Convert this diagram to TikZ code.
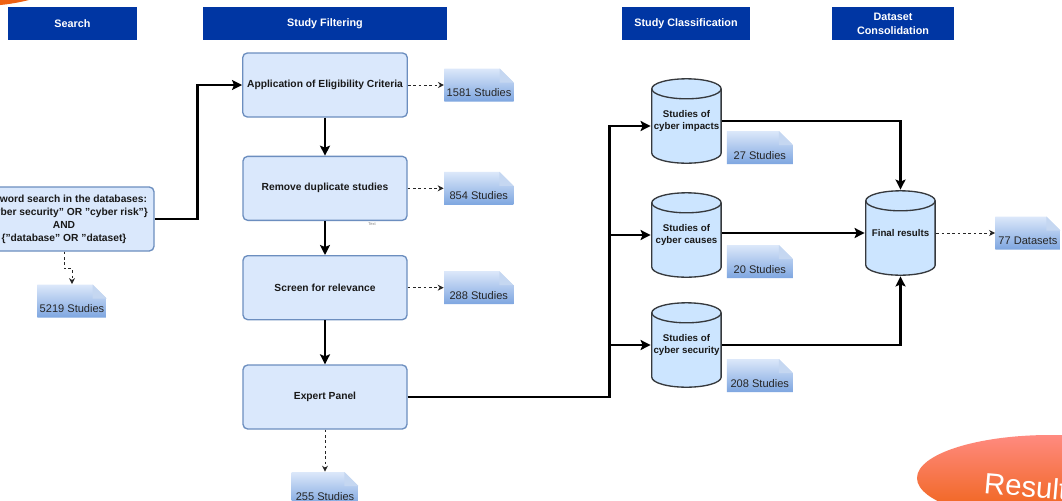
\documentclass[tikz,border=0pt]{standalone}
\usepackage{fontspec}
\setmainfont{Liberation Sans}
\usetikzlibrary{arrows.meta, positioning}

\definecolor{headblue}{HTML}{0036A3}
\definecolor{boxfill}{HTML}{DAE8FC}
\definecolor{boxline}{HTML}{6C8EBF}
\definecolor{notetop}{HTML}{DCE8FA}
\definecolor{notebot}{HTML}{7EA6E0}
\definecolor{cylfill}{HTML}{CCE5FF}
\definecolor{cylline}{HTML}{36393D}
\definecolor{blobtop}{HTML}{FF8A80}
\definecolor{blobbot}{HTML}{EE6010}

\begin{document}
\begin{tikzpicture}[
            x = 0.75pt,
            y = -0.75pt,
            > = {Stealth[length=7.5pt, width=7.5pt, inset=1.5pt]},
            semithick
        ]

        \tikzstyle{header}=[
            fill = headblue,
            text = white,
            font = \fontsize{8.1}{10.5}\selectfont\bfseries,
            align = center,
            inner sep = 0pt,
            minimum height = 24.75pt
        ]
        \tikzstyle{stage}=[
            rectangle,
            rounded corners = 3.5pt,
            draw = boxline,
            line width = 1pt,
            fill = boxfill,
            text = black!90,
            font = \fontsize{7.7}{9.75}\selectfont\bfseries,
            align = center,
            minimum width = 123pt,
            minimum height = 48pt
        ]
        \tikzstyle{store}=[
            rectangle,
            inner sep = 0pt,
            minimum width = 53.25pt,
            minimum height = 64.5pt,
            align = center,
            text = black!90,
            font = \fontsize{7.3}{9}\selectfont\bfseries,
            path picture = {
                \filldraw[fill = cylfill, draw = cylline, line width = 1pt]
                    ([xshift=0.6pt, yshift=-8.1pt]path picture bounding box.north west)
                    -- ([xshift=0.6pt, yshift=8.1pt]path picture bounding box.south west)
                    arc[start angle=180, end angle=360, x radius=26pt, y radius=7.5pt]
                    -- ([xshift=-0.65pt, yshift=-8.1pt]path picture bounding box.north east)
                    arc[start angle=0, end angle=180, x radius=26pt, y radius=7.5pt] -- cycle;
                \draw[cylline, line width = 1pt]
                    ([xshift=0.6pt, yshift=-8.1pt]path picture bounding box.north west)
                    arc[start angle=180, end angle=360, x radius=26pt, y radius=7.5pt];
            }
        ]
        \tikzstyle{studies}=[
            inner sep = 0pt,
            minimum width = 52pt,
            text height = 21pt,
            text depth = 3.75pt,
            text = black!85,
            font = \fontsize{8.3}{10}\selectfont,
            path picture = {
                \shade[top color = notetop, bottom color = notebot]
                    (path picture bounding box.south west) -- (path picture bounding box.south east)
                    -- ([yshift=-10.5pt]path picture bounding box.north east)
                    -- ([xshift=-10.5pt]path picture bounding box.north east)
                    -- (path picture bounding box.north west) -- cycle;
                \fill[notebot!45!white]
                    ([xshift=-10.5pt]path picture bounding box.north east)
                    -- ([xshift=-10.5pt, yshift=-10.5pt]path picture bounding box.north east)
                    -- ([yshift=-10.5pt]path picture bounding box.north east) -- cycle;
            }
        ]
        \tikzstyle{flow}=[->, line width = 1.9pt]
        \tikzstyle{tally}=[-{Stealth[length=4.5pt, width=4.5pt]}, line width = 0.75pt, dash pattern = on 2pt off 2pt, black!85]

        \useasboundingbox (0,0) rectangle (1062,500);
        \clip (0,0) rectangle (1062,500);
        \fill[white] (0,0) rectangle (1062,500);

        % leftovers of the slide
        \shade[top color = blobtop, bottom color = blobbot] (-20,-104) ellipse [x radius = 112.5pt, y radius = 82.5pt];
        \shade[top color = blobtop, bottom color = blobbot] (1050,478) ellipse [x radius = 99.75pt, y radius = 32.25pt];
        \node[text = white, font = \fontsize{22}{24}\selectfont, anchor = base west, rotate = -5, inner sep = 0pt] (result) at (983,493) {Result};

        \node[header, minimum width = 96.75pt] (hsearch) at (72.5,23.5) {Search};
        \node[header, minimum width = 183pt] (hfilter) at (325,23.5) {Study Filtering};
        \node[header, minimum width = 96pt] (hclass) at (686,23.5) {Study Classification};
        \node[header, minimum width = 91.5pt] (hdata) at (893,23.5) {Dataset\\Consolidation};

        \node[stage, minimum width = 135pt] (search) at (64,219) {Keyword search in the databases:\\\{"cyber security" OR "cyber risk"\}\\AND\\\{"database" OR "dataset\}};
        \node[stage] (elig) at (325,85) {Application of Eligibility Criteria};
        \node[stage] (dupes) [below=28.5pt of elig] {Remove duplicate studies};
        \node[stage] (screen) [below=25.5pt of dupes] {Screen for relevance};
        \node[stage] (panel) [below=33pt of screen] {Expert Panel};
        \node[text = black!50, font = \fontsize{3}{3}\selectfont, inner sep = 0pt] (txt) at (372,224) {Text};

        \node[store] (impacts) at (686.5,121) {Studies of\\cyber impacts};
        \node[store] (causes) at (686.5,235) {Studies of\\cyber causes};
        \node[store] (security) at (686.5,345) {Studies of\\cyber security};
        \node[store] (final) at (900.5,233) {Final results};

        \node[studies] (n5219) at (72,301) {5219 Studies};
        \node[studies] (n1581) [right=27pt of elig] {1581 Studies};
        \node[studies] (n854) [right=27pt of dupes] {854 Studies};
        \node[studies] (n288) [right=27pt of screen] {288 Studies};
        \node[studies, minimum width = 50pt] (n255) [below=31.5pt of panel] {255 Studies};
        \node[studies, minimum width = 49.5pt] (n27) [right=3pt of impacts.south east, anchor=south west] {27 Studies};
        \node[studies, minimum width = 49.5pt] (n20) [right=3pt of causes.south east, anchor=south west] {20 Studies};
        \node[studies, minimum width = 49.5pt] (n208) [right=3pt of security.south east, anchor=south west, yshift=-3pt] {208 Studies};
        \node[studies, minimum width = 48.75pt] (n77) [right=44pt of final] {77 Datasets};
        \coordinate (fork) at ([xshift=151.5pt]panel.east);

        \draw[flow] (search.east) -- ++(43,0) |- (elig);
        \draw[flow] (elig) -- (dupes);
        \draw[flow] (dupes) -- (screen);
        \draw[flow] (screen) -- (panel);
        \draw[flow] (panel) -- (fork) |- (security);
        \draw[flow] (fork) |- ([yshift=-3.75pt]impacts.west);
        \draw[flow] (fork) |- (causes);
        \draw[flow] (impacts) -| (final);
        \draw[flow] (causes.east |- final.west) -- (final);
        \draw[flow] (security) -| (final);

        % counts
        \draw[tally] (search.south) -- ++(0,17) -| (n5219.north);
        \draw[tally] (elig) -- (n1581);
        \draw[tally] (dupes) -- (n854);
        \draw[tally] (screen) -- (n288);
        \draw[tally] (panel) -- (n255);
        \draw[tally] (final) -- (n77);

    \end{tikzpicture}
\end{document}
